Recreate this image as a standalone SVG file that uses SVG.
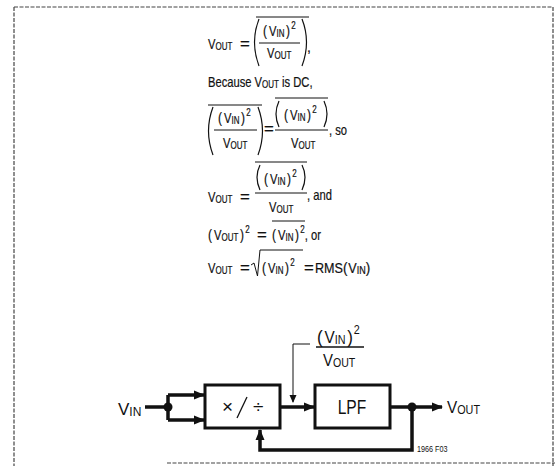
<svg xmlns="http://www.w3.org/2000/svg" width="555" height="466" viewBox="0 0 555 466">
<style>
.t{font-family:"Liberation Sans",Arial,sans-serif;font-size:14px;fill:#111;stroke:#111;stroke-width:0.2}
.s{font-size:10px}
.p{font-size:15px}
.b{font-family:"Liberation Sans",Arial,sans-serif;font-size:17px;fill:#111}
.bs{font-size:12px}
.thin{fill:none;stroke:#111;stroke-width:1}
.par{fill:none;stroke:#111;stroke-width:1.2}
.sig{fill:none;stroke:#111;stroke-width:3.5}
.box{fill:#fff;stroke:#111;stroke-width:3}
.frame{fill:none;stroke:#444;stroke-width:1.2;stroke-dasharray:4 1.5}
</style>
<defs>
<marker id="ah" markerWidth="11" markerHeight="10" refX="10" refY="5" orient="auto" markerUnits="userSpaceOnUse">
<path d="M0,0.5 L11,5 L0,9.5 Z" fill="#111"/>
</marker>
<marker id="ahs" markerWidth="8" markerHeight="8" refX="7" refY="4" orient="auto" markerUnits="userSpaceOnUse">
<path d="M0,0.5 L8,4 L0,7.5 Z" fill="#111"/>
</marker>
</defs>

<g id="frame">
<path class="frame" d="M14,7 V466 M14,7 H553 V466 M167,463 H555"/>
</g>

<g id="equations">
<!-- line 1 -->
<text class="t" transform="translate(208,49) scale(.8,1)">V<tspan class="s" dy="1">OUT</tspan></text>
<text class="t" transform="translate(240,49) scale(1.2,1)">=</text>
<path class="thin" d="M256,17 H309"/>
<path class="par" d="M259,19 Q250,42 259,66 M302,19 Q311,42 302,66"/>
<text class="t" transform="translate(263,36) scale(.8,1)"><tspan class="p">(</tspan><tspan dx="2.5">V</tspan><tspan class="s" dy="1">IN</tspan><tspan class="p" dx="2" dy="-1">)</tspan><tspan class="s" dx="1.5" dy="-7">2</tspan></text>
<path class="thin" d="M259,43 H300"/>
<text class="t" transform="translate(267,58) scale(.8,1)">V<tspan class="s" dy="1">OUT</tspan></text>
<text class="t" x="307" y="52">,</text>

<!-- line 2 -->
<text class="t" transform="translate(208,87) scale(.8,1)">Because V<tspan class="s" dy="1">OUT</tspan><tspan dy="-1"> is DC,</tspan></text>

<!-- line 3 -->
<path class="thin" d="M208,105 H262"/>
<path class="par" d="M213,107 Q204,131 213,155 M258,107 Q267,131 258,155"/>
<text class="t" transform="translate(218,123) scale(.8,1)"><tspan class="p">(</tspan><tspan dx="2.5">V</tspan><tspan class="s" dy="1">IN</tspan><tspan class="p" dx="2" dy="-1">)</tspan><tspan class="s" dx="1.5" dy="-7">2</tspan></text>
<path class="thin" d="M214,130 H257"/>
<text class="t" transform="translate(223,148) scale(.8,1)">V<tspan class="s" dy="1">OUT</tspan></text>
<text class="t" transform="translate(264,134) scale(1.2,1)">=</text>
<path class="thin" d="M275,98 H328"/>
<path class="par" d="M279,101 Q273,114 279,127 M324,101 Q330,114 324,127"/>
<text class="t" transform="translate(284,120) scale(.8,1)"><tspan class="p">(</tspan><tspan dx="2.5">V</tspan><tspan class="s" dy="1">IN</tspan><tspan class="p" dx="2" dy="-1">)</tspan><tspan class="s" dx="1.5" dy="-7">2</tspan></text>
<path class="thin" d="M275,130 H328"/>
<text class="t" transform="translate(291,148) scale(.8,1)">V<tspan class="s" dy="1">OUT</tspan></text>
<text class="t" transform="translate(329,135) scale(.8,1)">, so</text>

<!-- line 4 -->
<text class="t" transform="translate(208,202) scale(.8,1)">V<tspan class="s" dy="1">OUT</tspan></text>
<text class="t" transform="translate(240,202) scale(1.2,1)">=</text>
<path class="thin" d="M255,162 H307"/>
<path class="par" d="M260,165 Q254,177 260,190 M302,165 Q308,177 302,190"/>
<text class="t" transform="translate(264,184) scale(.8,1)"><tspan class="p">(</tspan><tspan dx="2.5">V</tspan><tspan class="s" dy="1">IN</tspan><tspan class="p" dx="2" dy="-1">)</tspan><tspan class="s" dx="1.5" dy="-7">2</tspan></text>
<path class="thin" d="M255,193 H307"/>
<text class="t" transform="translate(269,212) scale(.8,1)">V<tspan class="s" dy="1">OUT</tspan></text>
<text class="t" transform="translate(307,200) scale(.8,1)">, and</text>

<!-- line 5 -->
<text class="t" transform="translate(208,240) scale(.8,1)"><tspan class="p">(</tspan><tspan dx="2.5">V</tspan><tspan class="s" dy="1">OUT</tspan><tspan class="p" dx="2" dy="-1">)</tspan><tspan class="s" dx="1.5" dy="-7">2</tspan></text>
<text class="t" transform="translate(257,240) scale(1.2,1)">=</text>
<path class="thin" d="M272,221 H305"/>
<text class="t" transform="translate(272,240) scale(.8,1)"><tspan class="p">(</tspan><tspan dx="2.5">V</tspan><tspan class="s" dy="1">IN</tspan><tspan class="p" dx="2" dy="-1">)</tspan><tspan class="s" dx="1.5" dy="-7">2</tspan><tspan dy="7">, or</tspan></text>

<!-- line 6 -->
<text class="t" transform="translate(208,273) scale(.8,1)">V<tspan class="s" dy="1">OUT</tspan></text>
<text class="t" transform="translate(240,273) scale(1.2,1)">=</text>
<path class="thin" d="M251,265 L254,263 L257.5,276 L260,250 H303"/>
<text class="t" transform="translate(262,273) scale(.8,1)"><tspan class="p">(</tspan><tspan dx="2.5">V</tspan><tspan class="s" dy="1">IN</tspan><tspan class="p" dx="2" dy="-1">)</tspan><tspan class="s" dx="1.5" dy="-7">2</tspan></text>
<text class="t" transform="translate(304,273) scale(1.2,1)">=</text>
<text class="t" transform="translate(315,273) scale(.9,1)">RMS<tspan class="p">(</tspan><tspan dx="1">V</tspan><tspan class="s" dy="1">IN</tspan><tspan class="p" dy="-1">)</tspan></text>
</g>

<g id="label-frac">
<text class="b" transform="translate(317,343) scale(.9,1)"><tspan style="font-size:19px">(</tspan><tspan dx="2">V</tspan><tspan class="bs" dy="1">IN</tspan><tspan style="font-size:19px" dx="2" dy="-1">)</tspan><tspan class="bs" dx="1" dy="-9">2</tspan></text>
<path d="M316,347 H364" stroke="#111" stroke-width="1.6"/>
<text class="b" transform="translate(323,366) scale(.88,1)">V<tspan class="bs" dy="1">OUT</tspan></text>
</g>

<g id="vin">
<text class="b" x="118" y="415">V<tspan class="bs" dy="1">IN</tspan></text>
</g>

<g id="muldiv">
<rect class="box" x="205" y="385" width="75" height="43"/>
<text class="b" x="222" y="413" style="font-size:19px">×</text>
<path d="M247,397 L237,418" stroke="#111" stroke-width="1.3"/>
<text class="b" x="253" y="413" style="font-size:19px">÷</text>
</g>

<g id="lpf">
<rect class="box" x="315" y="385" width="75" height="43"/>
<text class="b" transform="translate(352,414) scale(.78,1)" text-anchor="middle" style="font-size:20px">LPF</text>
</g>

<g id="vout">
<text class="b" transform="translate(447,413) scale(.9,1)">V<tspan class="bs" dy="1">OUT</tspan></text>
</g>

<g id="connectors">
<path class="sig" d="M145,407 H168 M168,395 V420"/>
<path class="sig" d="M168,395 H204" marker-end="url(#ah)"/>
<path class="sig" d="M168,420 H204" marker-end="url(#ah)"/>
<circle cx="168" cy="407" r="4.5" fill="#111"/>
<path class="sig" d="M280,407 H314" marker-end="url(#ah)"/>
<path class="sig" d="M390,407 H442" marker-end="url(#ah)"/>
<circle cx="412" cy="407" r="4.5" fill="#111"/>
<path class="sig" d="M412,407 V450 H260 V430" marker-end="url(#ah)"/>
<path class="thin" d="M310,344 H293 V402" marker-end="url(#ahs)"/>
</g>

<g id="ref">
<text class="t" transform="translate(417,452) scale(.85,1)" style="font-size:8.5px;stroke-width:0">1966 F03</text>
</g>
</svg>
